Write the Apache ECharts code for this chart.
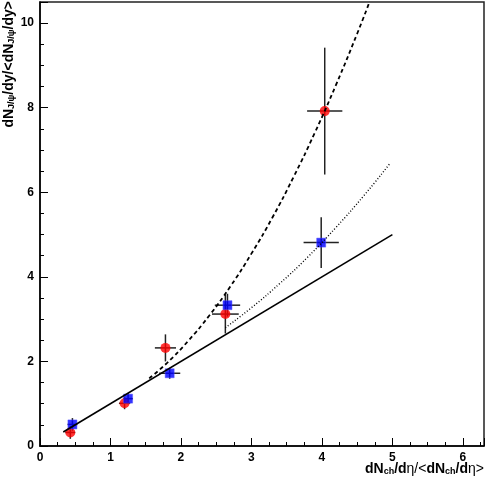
<!DOCTYPE html>
<html>
<head>
<meta charset="utf-8">
<script src="https://cdn.jsdelivr.net/npm/echarts@6/dist/echarts.min.js"></script>
<style>html,body{margin:0;padding:0;background:#fff}#c{width:486px;height:482px}</style>
</head>
<body>
<div id="c"></div>
<script>
// Red circles (measurement 1)
const redX = [0.43, 1.20, 1.78, 2.63, 4.04];
const redY = [0.32, 1.01, 2.32, 3.12, 7.92];
const redXErr = [0.07, 0.08, 0.15, 0.19, 0.25];
const redYErr = [0.15, 0.14, 0.32, 0.46, 1.50];
// Blue squares (measurement 2)
const blueX = [0.46, 1.25, 1.84, 2.66, 3.99];
const blueY = [0.51, 1.12, 1.72, 3.33, 4.81];
const blueXErr = [0.07, 0.07, 0.15, 0.18, 0.25];
const blueYErr = [0.15, 0.13, 0.13, 0.27, 0.60];
// Solid line (linear)
const solidX = [0.33, 5.0];
const solidY = [0.33, 5.0];
// Dashed curve
const dashX = [1.55, 1.8, 2.1, 2.4, 2.7, 3.0, 3.3, 3.6, 3.9, 4.2, 4.5, 4.68];
const dashY = [1.60, 1.96, 2.48, 3.08, 3.77, 4.55, 5.41, 6.37, 7.41, 8.54, 9.75, 10.52];
// Dotted curve
const dotX = [2.63, 3.0, 3.4, 3.8, 4.2, 4.6, 4.96];
const dotY = [2.80, 3.27, 3.84, 4.47, 5.17, 5.93, 6.67];

const xTicks = [0, 1, 2, 3, 4, 5, 6];
const yTicks = [0, 2, 4, 6, 8, 10];

const pts = (xs, ys) => xs.map((x, i) => [x, ys[i]]);
const errData = (xs, ys, ex, ey) => xs.map((x, i) => [x, ys[i], ex[i], ey[i]]);

function errRender(params, api) {
  const x = api.value(0), y = api.value(1), ex = api.value(2), ey = api.value(3);
  const l = api.coord([x - ex, y]), r = api.coord([x + ex, y]);
  const t = api.coord([x, y + ey]), b = api.coord([x, y - ey]);
  const st = {stroke: '#222', lineWidth: 1.5};
  return {type: 'group', children: [
    {type: 'line', shape: {x1: l[0], y1: l[1], x2: r[0], y2: r[1]}, style: st},
    {type: 'line', shape: {x1: t[0], y1: t[1], x2: b[0], y2: b[1]}, style: st}
  ]};
}

const chart = echarts.init(document.getElementById('c'));
const axisFont = {color: '#000', fontFamily: 'Liberation Sans, Arial, sans-serif', fontWeight: 'bold', fontSize: 12};
chart.setOption({
  animation: false,
  grid: {left: 40, right: 2, top: 2, bottom: 36, show: true, borderColor: '#222', borderWidth: 1.5},
  xAxis: {
    type: 'value', min: 0, max: 6.3, interval: 1,
    axisLine: {lineStyle: {color: '#000', width: 1.5}},
    axisTick: {inside: true, length: 8, lineStyle: {color: '#000'}},
    minorTick: {show: true, splitNumber: 4, length: 4, lineStyle: {color: '#000'}},
    splitLine: {show: false},
    axisLabel: Object.assign({margin: 6, showMaxLabel: false,
      formatter: v => xTicks.includes(v) ? String(v) : ''}, axisFont)
  },
  yAxis: {
    type: 'value', min: 0, max: 10.5, interval: 2,
    axisLine: {lineStyle: {color: '#000', width: 1.5}},
    axisTick: {inside: true, length: 8, lineStyle: {color: '#000'}},
    minorTick: {show: true, splitNumber: 4, length: 4, lineStyle: {color: '#000'}},
    splitLine: {show: false},
    axisLabel: Object.assign({margin: 6, showMaxLabel: false,
      formatter: v => yTicks.includes(v) ? String(v) : ''}, axisFont)
  },
  graphic: [
    {type: 'text', right: 2, top: 461, style: {
      text: '{b|dN}{s|ch}{b|/d}{n|η/<}{b|dN}{s|ch}{b|/d}{n|η>}',
      rich: {
        b: {font: 'bold 14px Liberation Sans, Arial, sans-serif', fill: '#000', verticalAlign: 'bottom', lineHeight: 18},
        n: {font: '14px Liberation Sans, Arial, sans-serif', fill: '#000', verticalAlign: 'bottom', lineHeight: 18},
        s: {font: 'bold 9px Liberation Sans, Arial, sans-serif', fill: '#000', verticalAlign: 'bottom', lineHeight: 12, padding: [6, 0, 0, 0]}
      }}},
    {type: 'text', x: 7, y: 1, rotation: Math.PI / 2, style: {
      text: '{b|dN}{s|J/ψ}{b|/dy/<dN}{s|J/ψ}{b|/dy>}',
      align: 'right', verticalAlign: 'middle',
      rich: {
        b: {font: 'bold 14px Liberation Sans, Arial, sans-serif', fill: '#000', verticalAlign: 'bottom', lineHeight: 18},
        s: {font: 'bold 9px Liberation Sans, Arial, sans-serif', fill: '#000', verticalAlign: 'bottom', lineHeight: 12, padding: [6, 0, 0, 0]}
      }}}
  ],
  series: [
    {type: 'custom', renderItem: errRender, data: errData(redX, redY, redXErr, redYErr), z: 1},
    {type: 'custom', renderItem: errRender, data: errData(blueX, blueY, blueXErr, blueYErr), z: 1},
    {type: 'scatter', data: pts(redX, redY), symbol: 'circle', symbolSize: 10, itemStyle: {color: '#ff0000'}, z: 10},
    {type: 'scatter', data: pts(blueX, blueY), symbol: 'rect', symbolSize: 9, itemStyle: {color: '#0000ff', borderColor: '#4d4dff', borderWidth: 0.6}, z: 10},
    {type: 'line', data: pts(solidX, solidY), showSymbol: false, symbol: 'none', lineStyle: {color: '#000', width: 1.6}, z: 20},
    {type: 'line', data: pts(dashX, dashY), showSymbol: false, symbol: 'none', smooth: true, lineStyle: {color: '#000', width: 1.8, type: [4, 3]}, z: 20},
    {type: 'line', data: pts(dotX, dotY), showSymbol: false, symbol: 'none', smooth: true, lineStyle: {color: '#000', width: 1.4, type: [1, 2]}, z: 20}
  ]
});
</script>
</body>
</html>
